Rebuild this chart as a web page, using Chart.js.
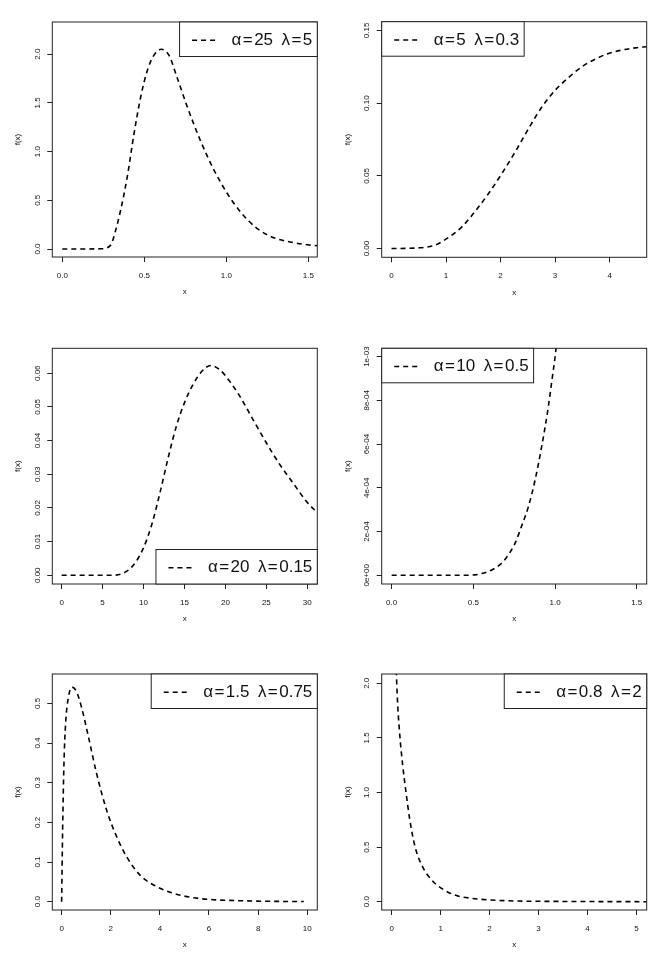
<!DOCTYPE html>
<html>
<head>
<meta charset="utf-8">
<script src="https://cdn.jsdelivr.net/npm/chart.js@4.4.1/dist/chart.umd.min.js"></script>
<style>
    html, body { margin: 0; padding: 0; background: #fff; }
    #wrap { position: relative; width: 670px; height: 955px; }
    canvas { position: absolute; }
</style>
</head>
<body>
<div id="wrap"></div>
<script>
// panel 1: alpha = 25, lambda = 5
const labels1 = 'α\u200A=\u200A25\u2002λ\u200A=\u200A5';
const x1 = [0, 0.10, 0.234, 0.295, 0.325, 0.356, 0.396, 0.437, 0.478, 0.518, 0.559, 0.604, 0.65, 0.70, 0.762, 0.843, 0.925, 1.006, 1.087, 1.189, 1.29, 1.39, 1.494, 1.555];
const y1 = [0, 0, 0.002, 0.04, 0.19, 0.40, 0.74, 1.18, 1.56, 1.83, 1.99, 2.05, 1.99, 1.76, 1.46, 1.11, 0.81, 0.57, 0.38, 0.21, 0.116, 0.072, 0.044, 0.034];
const xTicks1 = ['0.0', '0.5', '1.0', '1.5'];
const yTicks1 = ['0.0', '0.5', '1.0', '1.5', '2.0'];
const xLim1 = [-0.061, 1.555];
const yLim1 = [-0.082, 2.33];

// panel 2: alpha = 5, lambda = 0.3
const labels2 = 'α\u200A=\u200A5\u2002λ\u200A=\u200A0.3';
const x2 = [0, 0.5, 0.806, 1.05, 1.295, 1.539, 1.783, 2.027, 2.27, 2.516, 2.76, 3.005, 3.25, 3.49, 3.737, 3.98, 4.226, 4.47, 4.68];
const y2 = [0, 0.0005, 0.0025, 0.0078, 0.0151, 0.0259, 0.038, 0.0518, 0.0666, 0.0827, 0.0975, 0.109, 0.1177, 0.125, 0.1303, 0.1342, 0.1365, 0.138, 0.1388];
const xTicks2 = ['0', '1', '2', '3', '4'];
const yTicks2 = ['0.00', '0.05', '0.10', '0.15'];
const xLim2 = [-0.18, 4.68];
const yLim2 = [-0.006, 0.156];

// panel 3: alpha = 20, lambda = 0.15
const labels3 = 'α\u200A=\u200A20\u2002λ\u200A=\u200A0.15';
const x3 = [0, 6.3, 7.5, 8.7, 9.97, 11, 12, 13, 14, 15.06, 16.08, 17.1, 18.2, 19.33, 20.55, 21.77, 23.4, 25.03, 26.66, 28.29, 29.9, 31.2];
const y3 = [0, 0, 0.0006, 0.0028, 0.008, 0.015, 0.0244, 0.0348, 0.0442, 0.0516, 0.0568, 0.0605, 0.0623, 0.061, 0.0575, 0.0531, 0.0461, 0.0392, 0.0328, 0.0273, 0.0219, 0.0186];
const xTicks3 = ['0', '5', '10', '15', '20', '25', '30'];
const yTicks3 = ['0.00', '0.01', '0.02', '0.03', '0.04', '0.05', '0.06'];
const xLim3 = [-1.14, 31.22];
const yLim3 = [-0.0026, 0.0674];

// panel 4: alpha = 10, lambda = 0.5
const labels4 = 'α\u200A=\u200A10\u2002λ\u200A=\u200A0.5';
const x4 = [0, 0.469, 0.551, 0.612, 0.673, 0.714, 0.755, 0.796, 0.837, 0.878, 0.918, 0.959, 0.984, 1.004, 1.01];
const y4 = [0, 0, 0.0000076, 0.000024, 0.000055, 0.000093, 0.000146, 0.000226, 0.000314, 0.000436, 0.000588, 0.000771, 0.000909, 0.001023, 0.00107];
const xTicks4 = ['0.0', '0.5', '1.0', '1.5'];
const yTicks4 = ['0e+00', '2e-04', '4e-04', '6e-04', '8e-04', '1e-03'];
const xLim4 = [-0.061, 1.561];
const yLim4 = [-0.00004, 0.001038];

// panel 5: alpha = 1.5, lambda = 0.75
const labels5 = 'α\u200A=\u200A1.5\u2002λ\u200A=\u200A0.75';
const x5 = [0, 0.04, 0.095, 0.163, 0.27, 0.42, 0.61, 0.81, 1.09, 1.42, 1.83, 2.24, 2.65, 3.19, 3.87, 4.55, 5.36, 6.17, 7.26, 8.35, 9.86];
const y5 = [0, 0.18, 0.349, 0.45, 0.513, 0.541, 0.529, 0.49, 0.416, 0.324, 0.231, 0.164, 0.113, 0.067, 0.038, 0.021, 0.010, 0.005, 0.0025, 0.001, 0.0003];
const xTicks5 = ['0', '2', '4', '6', '8', '10'];
const yTicks5 = ['0.0', '0.1', '0.2', '0.3', '0.4', '0.5'];
const xLim5 = [-0.38, 10.41];
const yLim5 = [-0.021, 0.574];

// panel 6: alpha = 0.8, lambda = 2
const labels6 = 'α\u200A=\u200A0.8\u2002λ\u200A=\u200A2';
const x6 = [0.085, 0.123, 0.17, 0.225, 0.293, 0.37, 0.477, 0.613, 0.817, 1.02, 1.29, 1.63, 2.04, 2.59, 3.27, 4.29, 5.21];
const y6 = [2.2, 1.8, 1.5, 1.25, 1.0, 0.75, 0.504, 0.336, 0.198, 0.122, 0.061, 0.031, 0.015, 0.006, 0.003, 0.001, 0];
const xTicks6 = ['0', '1', '2', '3', '4', '5'];
const yTicks6 = ['0.0', '0.5', '1.0', '1.5', '2.0'];
const xLim6 = [-0.204, 5.21];
const yLim6 = [-0.076, 2.085];

Chart.defaults.font.family = '"Liberation Sans", Arial, sans-serif';
Chart.defaults.color = '#111';

// layout of the six panels (canvas position and plot box inside it)
const panels = [
    { left: 0,   top: 0,   w: 335, h: 310, box: [52.3, 22, 317.3, 257], corner: 'topright', ytx: 18,
      label: labels1, xs: x1, ys: y1, xt: xTicks1, yt: yTicks1, xl: xLim1, yl: yLim1 },
    { left: 335, top: 0,   w: 335, h: 310, box: [46.7, 21.7, 311.7, 257.3], corner: 'topleft', ytx: 13,
      label: labels2, xs: x2, ys: y2, xt: xTicks2, yt: yTicks2, xl: xLim2, yl: yLim2 },
    { left: 0,   top: 310, w: 335, h: 320, box: [52.3, 38.3, 317.3, 274], corner: 'bottomright', ytx: 18,
      label: labels3, xs: x3, ys: y3, xt: xTicks3, yt: yTicks3, xl: xLim3, yl: yLim3 },
    { left: 335, top: 310, w: 335, h: 320, box: [46.7, 38.3, 311.7, 274], corner: 'topleft', ytx: 13,
      label: labels4, xs: x4, ys: y4, xt: xTicks4, yt: yTicks4, xl: xLim4, yl: yLim4 },
    { left: 0,   top: 630, w: 335, h: 325, box: [52.3, 44, 317.3, 280], corner: 'topright', ytx: 18,
      label: labels5, xs: x5, ys: y5, xt: xTicks5, yt: yTicks5, xl: xLim5, yl: yLim5 },
    { left: 335, top: 630, w: 335, h: 325, box: [46.7, 44, 311.7, 280], corner: 'topright', ytx: 13,
      label: labels6, xs: x6, ys: y6, xt: xTicks6, yt: yTicks6, xl: xLim6, yl: yLim6 }
];

// box, rotated y labels and the R-style legend
const rPlot = {
    id: 'rPlot',
    afterDraw(chart, args, opts) {
        const { ctx, chartArea: a } = chart;
        const ys = chart.scales.y;
        ctx.save();
        ctx.setLineDash([]);
        ctx.strokeStyle = '#222';
        ctx.lineWidth = 1;
        ctx.strokeRect(a.left, a.top, a.right - a.left, a.bottom - a.top);

        ctx.fillStyle = '#111';
        ctx.font = '8px "Liberation Sans", Arial, sans-serif';
        ctx.textAlign = 'center';
        ctx.textBaseline = 'middle';
        opts.yLabels.forEach(lab => {
            const py = ys.getPixelForValue(parseFloat(lab));
            ctx.save();
            ctx.translate(a.left - 15, py);
            ctx.rotate(-Math.PI / 2);
            ctx.fillText(lab, 0, 0);
            ctx.restore();
        });

        const text = chart.data.datasets[0].label;
        ctx.font = '17px "Liberation Sans", Arial, sans-serif';
        const tw = ctx.measureText(text).width;
        const w = 12.5 + 27 + 12.5 + tw + 5;
        const h = 34.5;
        let lx = a.right - w, ly = a.top;
        if (opts.corner === 'topleft') lx = a.left;
        if (opts.corner === 'bottomright') ly = a.bottom - h;
        ctx.fillStyle = '#fff';
        ctx.fillRect(lx, ly, w, h);
        ctx.strokeRect(lx, ly, w, h);
        ctx.strokeStyle = '#000';
        ctx.lineWidth = 1.6;
        ctx.setLineDash([5, 4]);
        ctx.beginPath();
        ctx.moveTo(lx + 12.5, ly + h / 2 + 1);
        ctx.lineTo(lx + 39.5, ly + h / 2 + 1);
        ctx.stroke();
        ctx.setLineDash([]);
        ctx.fillStyle = '#111';
        ctx.textAlign = 'left';
        ctx.fillText(text, lx + 52, ly + h / 2 + 1);
        ctx.restore();
    }
};

const wrap = document.getElementById('wrap');

panels.forEach(p => {
    const canvas = document.createElement('canvas');
    canvas.width = p.w;
    canvas.height = p.h;
    canvas.style.left = p.left + 'px';
    canvas.style.top = p.top + 'px';
    canvas.style.width = p.w + 'px';
    canvas.style.height = p.h + 'px';
    wrap.appendChild(canvas);

    const [bl, bt, br, bb] = p.box;
    const xH = p.h - bb;
    const tickGrid = { display: true, drawOnChartArea: false, drawTicks: true, tickLength: 5, color: '#222', lineWidth: 1 };

    new Chart(canvas.getContext('2d'), {
        type: 'scatter',
        data: {
            datasets: [{
                label: p.label,
                data: p.xs.map((x, i) => ({ x: x, y: p.ys[i] })),
                showLine: true,
                borderColor: '#000',
                borderWidth: 1.6,
                borderDash: [5, 4],
                pointRadius: 0,
                cubicInterpolationMode: 'monotone',
                fill: false
            }]
        },
        options: {
            responsive: false,
            animation: false,
            events: [],
            layout: { padding: { top: bt, right: p.w - br, bottom: 0, left: 0 } },
            plugins: {
                legend: { display: false },
                tooltip: { enabled: false },
                rPlot: { yLabels: p.yt, corner: p.corner }
            },
            scales: {
                x: {
                    type: 'linear',
                    min: p.xl[0],
                    max: p.xl[1],
                    afterBuildTicks: s => { s.ticks = p.xt.map(v => ({ value: parseFloat(v) })); },
                    afterFit: s => { s.height = xH; },
                    ticks: {
                        callback: (v, i) => p.xt[i],
                        font: { size: 8 },
                        padding: 8.5,
                        maxRotation: 0,
                        autoSkip: false
                    },
                    grid: tickGrid,
                    border: { display: false },
                    title: {
                        display: true,
                        text: 'x',
                        font: { size: 8 },
                        padding: { top: 0, bottom: xH - 35 - 4.8 }
                    }
                },
                y: {
                    type: 'linear',
                    min: p.yl[0],
                    max: p.yl[1],
                    afterBuildTicks: s => { s.ticks = p.yt.map(v => ({ value: parseFloat(v) })); },
                    afterFit: s => { s.width = bl; },
                    ticks: { display: false },
                    grid: tickGrid,
                    border: { display: false },
                    title: {
                        display: true,
                        text: 'f(x)',
                        font: { size: 8 },
                        padding: { top: p.ytx - 4.8, bottom: 0 }
                    }
                }
            }
        },
        plugins: [rPlot]
    });
});
</script>
</body>
</html>
